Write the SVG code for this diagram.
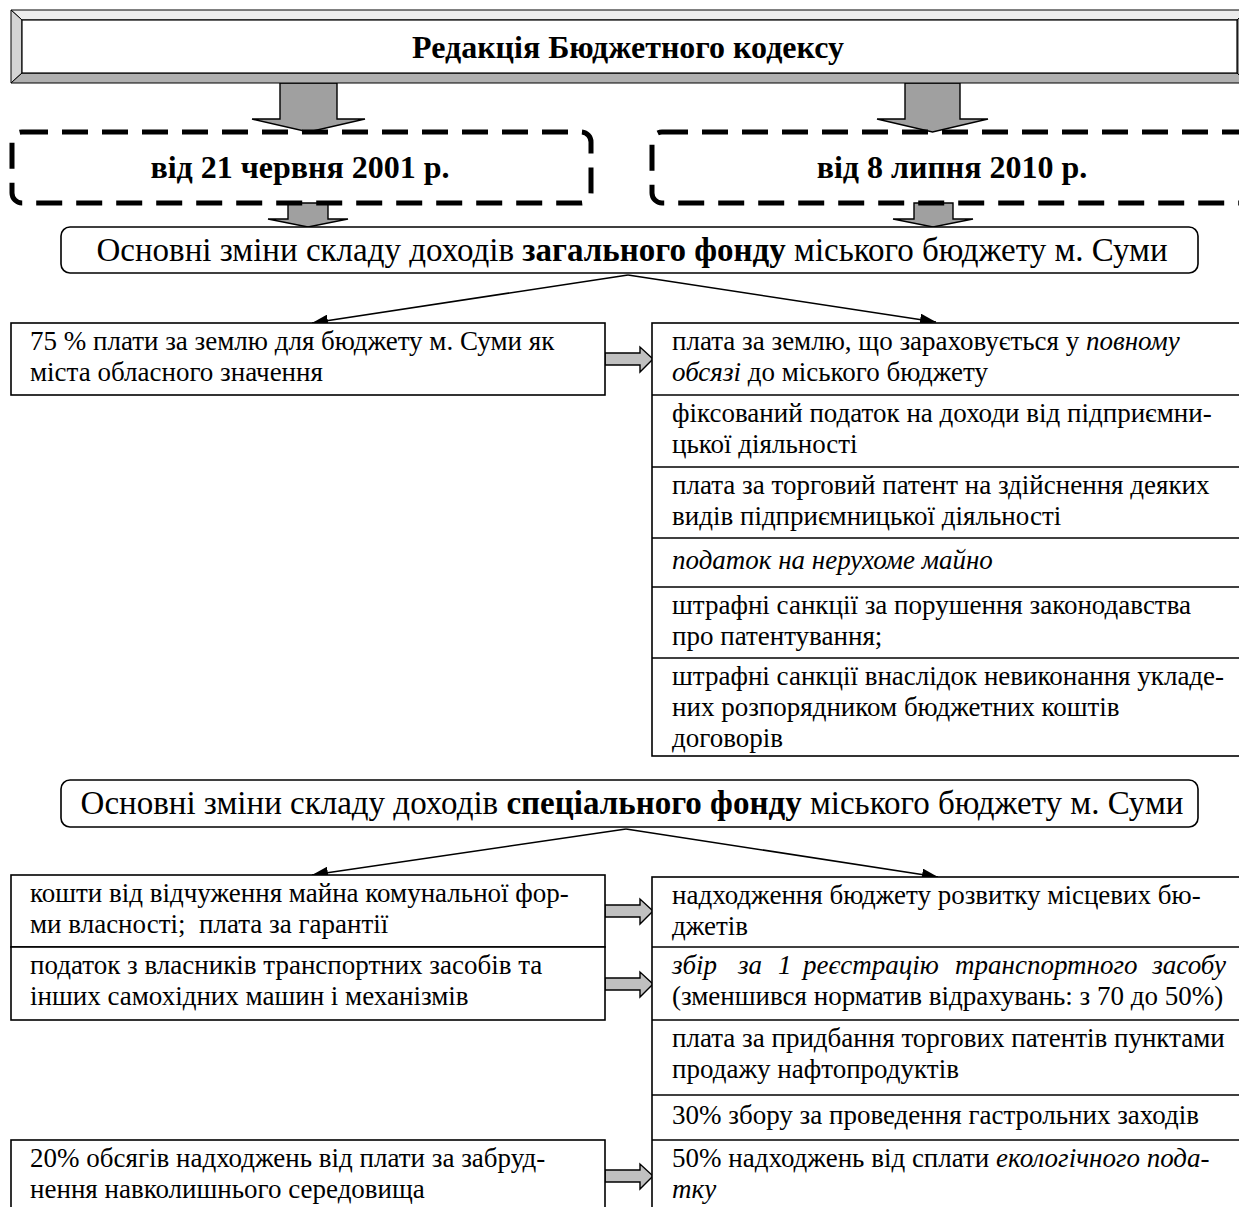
<svg xmlns="http://www.w3.org/2000/svg" width="1239" height="1207" viewBox="0 0 1239 1207">
<style>
.t{font-family:"Liberation Serif","Times New Roman",serif;font-size:27px;fill:#000}
.h{font-family:"Liberation Serif","Times New Roman",serif;font-size:32px;font-weight:bold;fill:#000}
.hr{font-family:"Liberation Serif","Times New Roman",serif;font-size:33px;fill:#000}
.i{font-style:italic}
.b{font-weight:bold}
.box{fill:#fff;stroke:#000;stroke-width:1.6}
.rbox{fill:#fff;stroke:#000;stroke-width:1.6}
.dash{fill:none;stroke:#000;stroke-width:5;stroke-dasharray:26 14}
.big{fill:#a0a0a0;stroke:#000;stroke-width:1.4}
.sm{fill:#c0c0c0;stroke:#000;stroke-width:1.4}
.ln{stroke:#000;stroke-width:1.6;fill:none;marker-end:url(#ah)}
.row{stroke:#000;stroke-width:1.6}
</style>
<defs>
<marker id="ah" markerUnits="userSpaceOnUse" markerWidth="16" markerHeight="12" refX="16" refY="6" orient="auto">
<path d="M0,0 L16,6 L0,12 z" fill="#000"/>
</marker>
</defs>
<rect width="1239" height="1207" fill="#fff"/>

<g id="connectors">
<polygon class="big" points="280,83 337,83 337,119 365,119 308.5,132 252,119 280,119"/>
<polygon class="big" points="905,83 960,83 960,119 988,119 932.5,132 877,119 905,119"/>
<polygon class="big" points="288,203 328,203 328,219 348,219 308,227 268,219 288,219"/>
<polygon class="big" points="914,203 953,203 953,219 973,219 933,227 893,219 914,219"/>
<path class="ln" d="M628,275 L312,323"/>
<path class="ln" d="M628,275 L936,322"/>
<path class="ln" d="M626,829 L312,875"/>
<path class="ln" d="M626,829 L938,877"/>
<polygon class="sm" points="605,353 640,353 640,347 653,359 640,372 640,365 605,365"/>
<polygon class="sm" points="605,905 640,905 640,899 653,911 640,924 640,917 605,917"/>
<polygon class="sm" points="605,978 640,978 640,972 653,984 640,997 640,990 605,990"/>
<polygon class="sm" points="605,1170 640,1170 640,1164 653,1176 640,1189 640,1182 605,1182"/>
</g>

<g id="banner">
<polygon points="11,10 1248,10 1237,20 22,20" fill="#ececec" stroke="#000" stroke-width="1"/>
<polygon points="11,10 22,20 22,73 11,83" fill="#d4d4d4" stroke="#000" stroke-width="1"/>
<polygon points="11,83 22,73 1237,73 1248,83" fill="#b0b0b0" stroke="#000" stroke-width="1"/>
<polygon points="1248,10 1237,20 1237,73 1248,83" fill="#909090" stroke="#000" stroke-width="1"/>
<rect x="22" y="20" width="1215" height="53" fill="#fff" stroke="#000" stroke-width="1.2"/>
<text class="h" x="628" y="58" text-anchor="middle">Редакція Бюджетного кодексу</text>
</g>

<g id="ed2001">
<rect class="dash" x="12" y="132" width="579" height="71" rx="10"/>
<text class="h" x="300" y="178" text-anchor="middle">від 21 червня 2001 р.</text>
</g>

<g id="ed2010">
<rect class="dash" x="652" y="132" width="600" height="71" rx="10"/>
<text class="h" x="952" y="178" text-anchor="middle">від 8 липня 2010 р.</text>
</g>

<g id="general-fund">
<rect class="rbox" x="61" y="227" width="1137" height="46" rx="9"/>
<text class="hr" x="632" y="261" text-anchor="middle">Основні зміни складу доходів <tspan class="b">загального фонду</tspan> міського бюджету м. Суми</text>
</g>

<g id="gf-left">
<rect class="box" x="11" y="323" width="594" height="72"/>
<text class="t" x="30" y="350">75 % плати за землю для бюджету м. Суми як</text>
<text class="t" x="30" y="381">міста обласного значення</text>
</g>

<g id="gf-right">
<rect class="box" x="652" y="323" width="600" height="433"/>
<line class="row" x1="652" y1="395" x2="1252" y2="395"/>
<line class="row" x1="652" y1="467" x2="1252" y2="467"/>
<line class="row" x1="652" y1="538" x2="1252" y2="538"/>
<line class="row" x1="652" y1="587" x2="1252" y2="587"/>
<line class="row" x1="652" y1="658" x2="1252" y2="658"/>
<text class="t" x="672" y="350">плата за землю, що зараховується у <tspan class="i">повному</tspan></text>
<text class="t" x="672" y="381"><tspan class="i">обсязі</tspan> до міського бюджету</text>
<text class="t" x="672" y="422">фіксований податок на доходи від підприємни-</text>
<text class="t" x="672" y="453">цької діяльності</text>
<text class="t" x="672" y="494">плата за торговий патент на здійснення деяких</text>
<text class="t" x="672" y="525">видів підприємницької діяльності</text>
<text class="t i" x="672" y="569">податок на нерухоме майно</text>
<text class="t" x="672" y="614">штрафні санкції за порушення законодавства</text>
<text class="t" x="672" y="645">про патентування;</text>
<text class="t" x="672" y="685">штрафні санкції внаслідок невиконання укладе-</text>
<text class="t" x="672" y="716">них розпорядником бюджетних коштів</text>
<text class="t" x="672" y="747">договорів</text>
</g>

<g id="special-fund">
<rect class="rbox" x="61" y="780" width="1137" height="47" rx="9"/>
<text class="hr" x="632" y="814" text-anchor="middle">Основні зміни складу доходів <tspan class="b">спеціального фонду</tspan> міського бюджету м. Суми</text>
</g>

<g id="sf-left-1">
<rect class="box" x="11" y="875" width="594" height="72"/>
<text class="t" x="30" y="902">кошти від відчуження майна комунальної фор-</text>
<text class="t" x="30" y="933">ми власності;&#160; плата за гарантії</text>
</g>

<g id="sf-left-2">
<rect class="box" x="11" y="947" width="594" height="73"/>
<text class="t" x="30" y="974">податок з власників транспортних засобів та</text>
<text class="t" x="30" y="1005">інших самохідних машин і механізмів</text>
</g>

<g id="sf-left-3">
<rect class="box" x="11" y="1140" width="594" height="80"/>
<text class="t" x="30" y="1167">20% обсягів надходжень від плати за забруд-</text>
<text class="t" x="30" y="1198">нення навколишнього середовища</text>
</g>

<g id="sf-right">
<rect class="box" x="652" y="877" width="600" height="343"/>
<line class="row" x1="652" y1="947" x2="1252" y2="947"/>
<line class="row" x1="652" y1="1020" x2="1252" y2="1020"/>
<line class="row" x1="652" y1="1095" x2="1252" y2="1095"/>
<line class="row" x1="652" y1="1140" x2="1252" y2="1140"/>
<text class="t" x="672" y="904">надходження бюджету розвитку місцевих бю-</text>
<text class="t" x="672" y="935">джетів</text>
<text class="t i" y="974"><tspan x="672">збір</tspan><tspan x="738">за</tspan><tspan x="778">1</tspan><tspan x="803">реєстрацію</tspan><tspan x="955">транспортного</tspan></text>
<text class="t i" x="1226" y="974" text-anchor="end">засобу</text>
<text class="t" x="672" y="1005">(зменшився норматив відрахувань: з 70 до 50%)</text>
<text class="t" x="672" y="1047">плата за придбання торгових патентів пунктами</text>
<text class="t" x="672" y="1078">продажу нафтопродуктів</text>
<text class="t" x="672" y="1124">30% збору за проведення гастрольних заходів</text>
<text class="t" x="672" y="1167">50% надходжень від сплати <tspan class="i">екологічного пода-</tspan></text>
<text class="t i" x="672" y="1198">тку</text>
</g>
</svg>
